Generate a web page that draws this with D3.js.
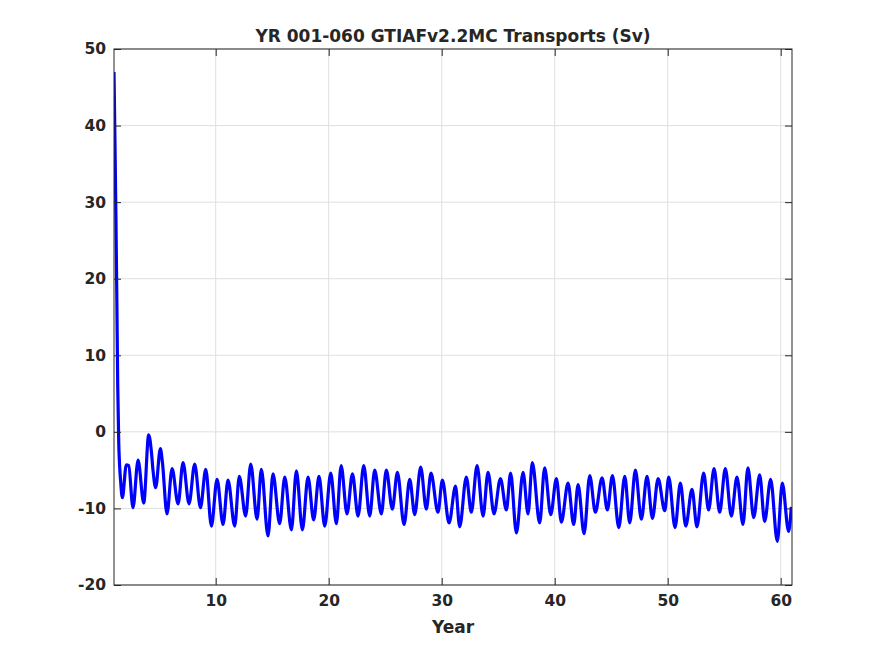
<!DOCTYPE html>
<html>
<head>
<meta charset="utf-8">
<script src="https://cdn.jsdelivr.net/npm/d3@7"></script>
<style>
    body { margin: 0; background: #fff; }
    text { font-family: "DejaVu Sans", sans-serif; font-weight: bold; fill: #262626; }
</style>
</head>
<body>
<div id="chart"></div>
<script>
// Puntos (año, transporte en Sv)
const years = [
    1.00, 1.08, 1.17, 1.25, 1.33, 1.42, 1.50, 1.58, 1.74,
    2.09, 2.30, 2.68, 3.13, 3.63, 4.07, 4.31, 4.45, 4.69, 5.10, 5.28, 5.69, 6.14,
    6.67, 7.11, 7.64, 8.14, 8.65, 9.12, 9.62, 10.12, 10.65, 11.09,
    11.68, 12.09, 12.65, 13.10, 13.66, 14.04, 14.63, 15.07, 15.66, 16.11,
    16.70, 17.14, 17.67, 18.17, 18.67, 19.14, 19.65, 20.18, 20.68, 21.10,
    21.62, 22.10, 22.60, 23.10, 23.63, 24.07, 24.66, 25.10, 25.63, 26.08,
    26.67, 27.17, 27.61, 28.14, 28.64, 29.05, 29.67, 30.06, 30.65, 31.22,
    31.59, 32.18, 32.62, 33.13, 33.66, 34.10, 34.63, 35.20, 35.72, 36.10,
    36.61, 37.20, 37.64, 38.02, 38.67, 39.11, 39.65, 40.15, 40.59, 41.18,
    41.68, 42.07, 42.60, 43.10, 43.60, 44.19, 44.66, 45.11, 45.67, 46.20,
    46.64, 47.14, 47.67, 48.17, 48.65, 49.15, 49.74, 50.09, 50.65, 51.12,
    51.60, 52.15, 52.59, 53.18, 53.62, 54.10, 54.60, 55.10, 55.63, 56.13,
    56.66, 57.10, 57.61, 58.14, 58.58, 59.11, 59.70, 60.14, 60.70, 60.94
];
const transport = [
    47.0, 38.5, 28.0, 17.5, 6.0, -1.5, -4.5, -6.3, -8.6,
    -4.3, -4.4, -9.9, -3.7, -9.3, -0.4, -2.6, -5.0, -7.3, -2.2, -3.9, -10.7, -4.8,
    -9.4, -4.0, -9.4, -4.2, -9.9, -4.9, -12.3, -6.2, -12.1, -6.3,
    -12.3, -5.8, -11.0, -4.2, -11.4, -4.9, -13.6, -5.5, -12.0, -5.9,
    -12.8, -5.1, -12.8, -5.9, -11.5, -5.8, -12.3, -5.4, -12.0, -4.4,
    -10.7, -5.5, -11.0, -4.4, -11.0, -5.0, -10.7, -5.0, -10.1, -5.3,
    -12.1, -6.2, -10.8, -4.6, -10.1, -5.4, -10.5, -6.3, -11.9, -7.1,
    -12.4, -5.9, -10.5, -4.4, -11.0, -5.3, -10.7, -6.1, -10.2, -5.4,
    -13.2, -5.3, -10.7, -4.0, -11.9, -4.7, -10.8, -6.1, -11.8, -6.7,
    -12.1, -6.9, -13.3, -5.7, -10.5, -6.0, -10.2, -5.7, -12.5, -5.8,
    -11.9, -5.0, -11.4, -5.8, -11.3, -6.1, -10.3, -5.9, -12.5, -6.7,
    -12.3, -7.5, -12.4, -5.4, -10.2, -4.8, -10.5, -4.8, -11.0, -5.9,
    -12.1, -4.7, -11.2, -5.6, -11.7, -6.2, -14.3, -6.7, -13.0, -9.8
];
const xTicks = [10, 20, 30, 40, 50, 60];
const yTicks = [-20, -10, 0, 10, 20, 30, 40, 50];
const title = "YR 001-060 GTIAFv2.2MC Transports (Sv)";
const xLabel = "Year";

document.addEventListener("DOMContentLoaded", () => {
    const width = 875, height = 656;
    const margin = { top: 49, right: 83, bottom: 71, left: 114 };
    const innerW = width - margin.left - margin.right;
    const innerH = height - margin.top - margin.bottom;

    const svg = d3.select("#chart")
        .append("svg")
        .attr("width", width)
        .attr("height", height)
        .style("background", "#fff");

    const g = svg.append("g")
        .attr("transform", `translate(${margin.left},${margin.top})`);

    // Escalas
    const x = d3.scaleLinear().domain([1, 61]).range([0, innerW]);
    const y = d3.scaleLinear().domain([-20, 50]).range([innerH, 0]);

    // Rejilla
    g.append("g").selectAll("line")
        .data(xTicks)
        .join("line")
        .attr("x1", d => x(d)).attr("x2", d => x(d))
        .attr("y1", 0).attr("y2", innerH)
        .attr("stroke", "#dfdfdf").attr("stroke-width", 1);

    g.append("g").selectAll("line")
        .data(yTicks)
        .join("line")
        .attr("x1", 0).attr("x2", innerW)
        .attr("y1", d => y(d)).attr("y2", d => y(d))
        .attr("stroke", "#dfdfdf").attr("stroke-width", 1);

    // Serie
    g.append("clipPath").attr("id", "clip")
        .append("rect").attr("width", innerW).attr("height", innerH);

    const points = years.map((t, i) => [t, transport[i]]);
    g.append("path")
        .datum(points)
        .attr("clip-path", "url(#clip)")
        .attr("fill", "none")
        .attr("stroke", "#0000ff")
        .attr("stroke-width", 3.2)
        .attr("stroke-linejoin", "round")
        .attr("d", d3.line()
            .x(d => x(d[0]))
            .y(d => y(d[1]))
            .curve(d3.curveMonotoneX));

    // Ejes con marcas hacia dentro
    const tick = 7;
    const fmt = d => String(d);   // guion normal, como en el original
    const styleAxis = sel => {
        sel.select(".domain").remove();
        sel.selectAll("line").attr("stroke", "#262626");
        sel.selectAll("text")
            .style("font-size", "15.5px")
            .style("font-family", "'DejaVu Sans', sans-serif")
            .style("font-weight", "bold")
            .attr("fill", "#262626");
    };

    g.append("g")
        .attr("transform", `translate(0,${innerH})`)
        .call(d3.axisBottom(x).tickValues(xTicks).tickFormat(fmt).tickSizeInner(-tick).tickSizeOuter(0).tickPadding(10))
        .call(styleAxis);

    g.append("g")
        .call(d3.axisTop(x).tickValues(xTicks).tickSizeInner(-tick).tickSizeOuter(0).tickFormat(""))
        .call(styleAxis);

    g.append("g")
        .call(d3.axisLeft(y).tickValues(yTicks).tickFormat(fmt).tickSizeInner(-tick).tickSizeOuter(0).tickPadding(8))
        .call(styleAxis);

    g.append("g")
        .attr("transform", `translate(${innerW},0)`)
        .call(d3.axisRight(y).tickValues(yTicks).tickSizeInner(-tick).tickSizeOuter(0).tickFormat(""))
        .call(styleAxis);

    // Caja
    g.append("rect")
        .attr("width", innerW)
        .attr("height", innerH)
        .attr("fill", "none")
        .attr("stroke", "#262626")
        .attr("stroke-width", 1);

    // Título y etiqueta
    svg.append("text")
        .attr("x", margin.left + innerW / 2)
        .attr("y", 42)
        .attr("text-anchor", "middle")
        .style("font-size", "17px")
        .text(title);

    svg.append("text")
        .attr("x", margin.left + innerW / 2)
        .attr("y", 633)
        .attr("text-anchor", "middle")
        .style("font-size", "17px")
        .text(xLabel);
});
</script>
</body>
</html>
